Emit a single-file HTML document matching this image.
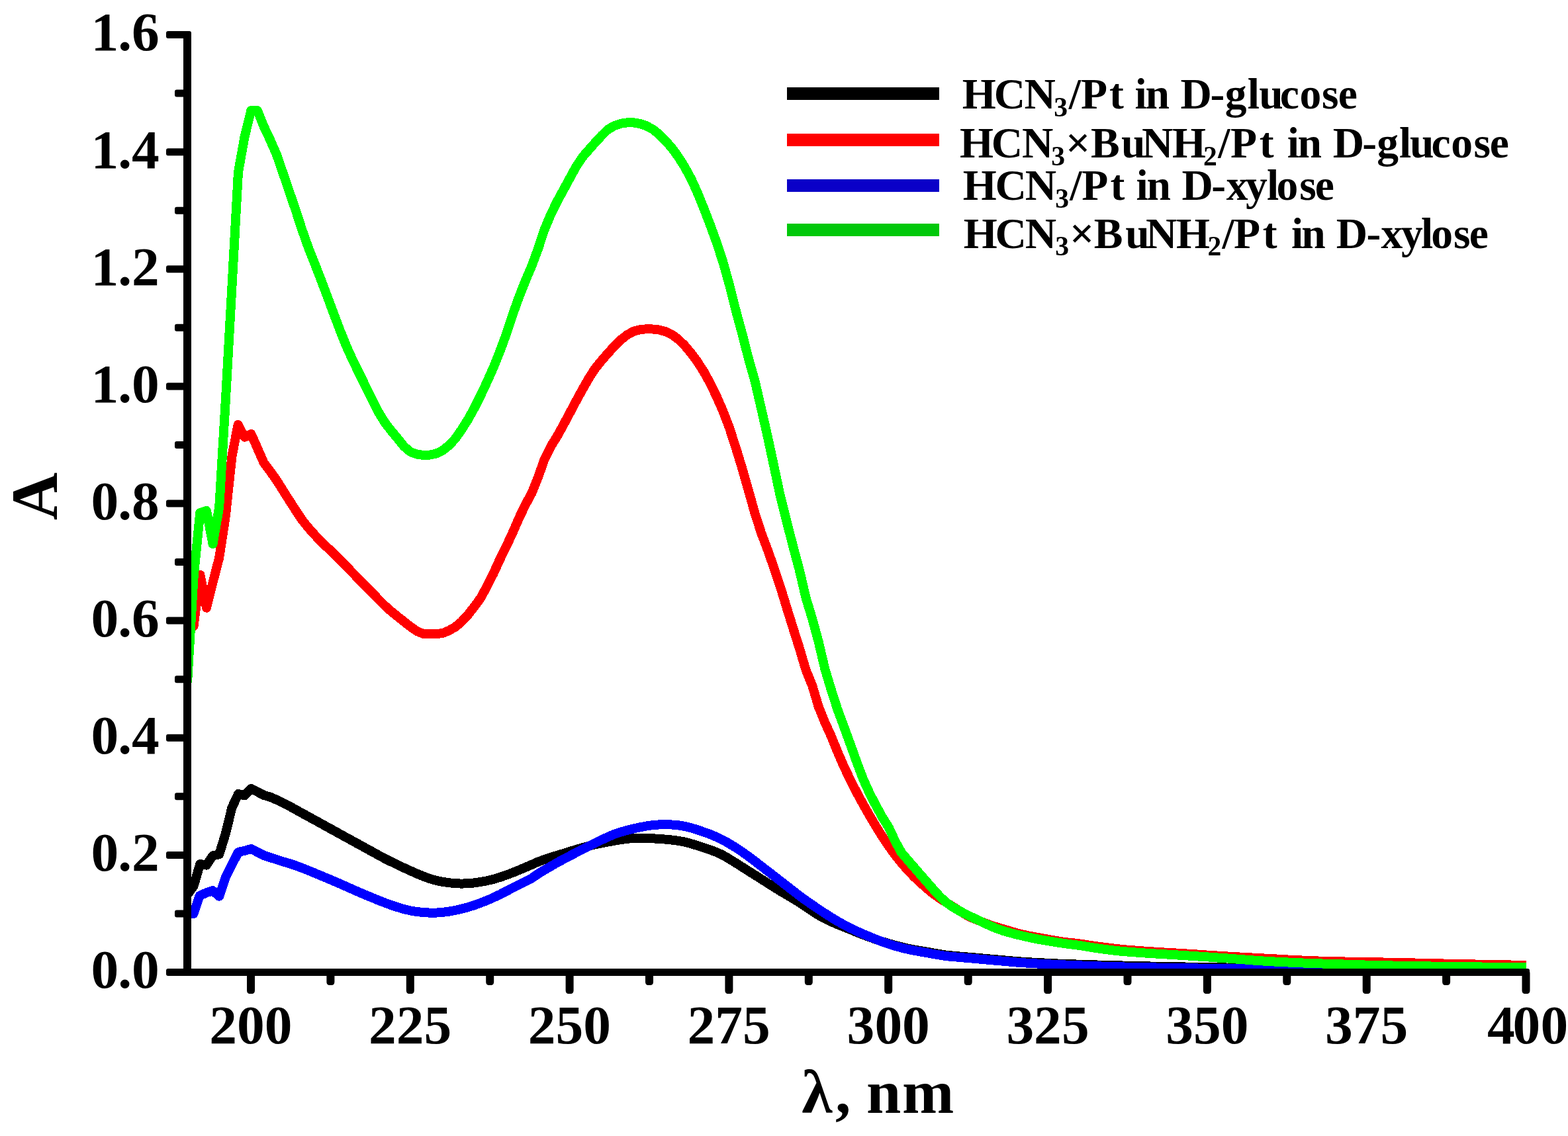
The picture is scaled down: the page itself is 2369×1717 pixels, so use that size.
<!DOCTYPE html>
<html lang="en"><head><meta charset="utf-8"><title>UV spectra</title>
<style>
html,body{margin:0;padding:0;background:#fff;}
body{width:2369px;height:1717px;overflow:hidden;}
svg{display:block;}
text{font-family:"Liberation Serif","DejaVu Serif",serif;font-weight:bold;fill:#000;}
.tick{font-size:83.5px;}
.leg{font-size:65.6px;}
.ttl{font-size:100px;}
.xt{font-size:94px;}
</style></head><body>
<svg xmlns="http://www.w3.org/2000/svg" width="2369" height="1717" viewBox="0 0 2369 1717">
<rect width="2369" height="1717" fill="#fff"/>
<defs><clipPath id="plot"><rect x="283" y="40" width="2024" height="1440"/></clipPath></defs>
<g clip-path="url(#plot)" shape-rendering="crispEdges">
<polyline points="283.0,1352.4 292.6,1339.2 302.3,1305.9 311.9,1307.6 321.5,1293.3 331.2,1291.3 340.8,1260.0 350.4,1220.7 360.0,1200.1 369.7,1202.3 379.3,1192.1 389.0,1196.9 398.6,1201.9 408.2,1204.7 417.9,1208.8 427.5,1213.4 437.1,1218.4 446.8,1223.7 456.4,1229.0 466.0,1234.3 475.7,1239.6 485.3,1244.9 494.9,1250.2 504.6,1255.5 514.2,1260.8 523.8,1266.1 533.5,1271.4 543.1,1276.7 552.7,1282.0 562.4,1287.3 572.0,1292.6 581.6,1297.8 591.3,1302.6 600.9,1307.2 610.5,1311.8 620.2,1316.2 629.8,1320.5 639.4,1324.4 649.1,1328.0 658.7,1330.8 668.3,1332.8 678.0,1334.2 687.6,1335.2 697.2,1335.6 706.9,1335.3 716.5,1334.4 726.1,1333.0 735.8,1331.2 745.4,1328.9 755.0,1326.0 764.7,1322.7 774.3,1319.1 783.9,1315.2 793.6,1311.1 803.2,1306.9 812.8,1302.7 822.5,1299.0 832.1,1295.8 841.7,1292.9 851.4,1290.0 861.0,1287.0 870.6,1284.0 880.3,1281.2 889.9,1278.6 899.5,1276.3 909.2,1274.3 918.8,1272.5 928.4,1270.7 938.1,1269.1 947.7,1267.8 957.3,1266.9 967.0,1266.6 976.6,1266.8 986.2,1267.3 995.9,1267.9 1005.5,1268.6 1015.1,1269.6 1024.8,1270.8 1034.4,1272.6 1044.0,1275.1 1053.7,1278.1 1063.3,1281.3 1072.9,1284.5 1082.6,1288.1 1092.2,1292.5 1101.8,1298.2 1111.5,1304.2 1121.1,1310.3 1130.7,1316.4 1140.4,1322.5 1150.0,1328.6 1159.6,1334.7 1169.3,1340.8 1178.9,1346.8 1188.5,1352.5 1198.2,1358.3 1207.8,1364.1 1217.4,1370.5 1227.1,1377.0 1236.7,1383.2 1246.3,1388.6 1256.0,1393.2 1265.6,1397.3 1275.2,1401.2 1284.9,1405.1 1294.5,1409.0 1304.1,1412.8 1313.8,1416.4 1323.4,1419.9 1333.0,1423.1 1342.7,1426.1 1352.3,1428.8 1361.9,1431.3 1371.6,1433.5 1381.2,1435.4 1390.9,1437.1 1400.5,1438.7 1410.1,1440.4 1419.8,1442.0 1429.4,1443.6 1439.0,1444.5 1448.7,1445.4 1458.3,1446.2 1467.9,1447.0 1477.6,1447.9 1487.2,1448.7 1496.8,1449.6 1506.5,1450.4 1516.1,1451.3 1525.7,1452.1 1535.4,1453.0 1545.0,1453.7 1554.6,1454.3 1564.3,1454.8 1573.9,1455.3 1583.5,1455.8 1593.2,1456.3 1602.8,1456.7 1612.4,1457.1 1622.1,1457.4 1631.7,1457.7 1641.3,1458.0 1651.0,1458.3 1660.6,1458.6 1670.2,1458.8 1679.9,1459.1 1689.5,1459.3 1699.1,1459.6 1708.8,1459.8 1718.4,1460.0 1728.0,1460.3 1737.7,1460.5 1747.3,1460.7 1756.9,1460.9 1766.6,1461.1 1776.2,1461.3 1785.8,1461.4 1795.5,1461.6 1805.1,1461.8 1814.7,1462.0 1824.4,1462.1 1834.0,1462.3 1843.6,1462.4 1853.3,1462.5 1862.9,1462.7 1872.5,1462.8 1882.2,1463.0 1891.8,1463.1 1901.4,1463.2 1911.1,1463.3 1920.7,1463.5 1930.3,1463.6 1940.0,1463.7 1949.6,1463.9 1959.2,1464.0 1968.9,1464.1 1978.5,1464.2 1988.1,1464.3 1997.8,1464.4 2007.4,1464.6 2017.0,1464.7 2026.7,1464.8 2036.3,1464.9 2045.9,1465.0 2055.6,1465.1 2065.2,1465.2 2074.8,1465.3 2084.5,1465.4 2094.1,1465.5 2103.7,1465.6 2113.4,1465.7 2123.0,1465.8 2132.6,1465.9 2142.3,1466.0 2151.9,1466.0 2161.5,1466.1 2171.2,1466.2 2180.8,1466.3 2190.4,1466.3 2200.1,1466.4 2209.7,1466.5 2219.3,1466.5 2229.0,1466.6 2238.6,1466.7 2248.2,1466.7 2257.9,1466.8 2267.5,1466.8 2277.1,1466.9 2286.8,1466.9 2296.4,1467.0 2306.0,1467.0" fill="none" stroke="#000000" stroke-width="14" stroke-linejoin="round" stroke-linecap="butt"/>
<polyline points="283.0,956.0 292.6,946.0 302.4,869.0 312.0,918.7 321.6,880.0 331.2,843.0 340.8,780.0 350.4,690.0 359.6,642.0 369.5,660.7 379.5,656.0 398.7,699.7 408.3,712.3 418.0,726.1 427.6,741.4 437.2,756.5 446.9,771.6 456.5,786.0 466.1,797.9 475.8,808.8 485.4,818.9 495.0,828.0 504.7,837.0 514.3,846.8 523.9,856.7 533.6,866.6 543.2,876.5 552.8,886.3 562.5,896.2 572.1,906.1 581.7,915.7 591.4,924.3 601.0,932.1 610.6,939.7 620.3,947.3 629.9,954.0 639.5,957.9 649.2,958.0 658.8,958.0 668.4,957.2 678.1,953.1 687.7,947.8 697.3,939.7 707.0,929.2 716.6,917.0 726.2,903.8 735.9,886.0 745.5,866.9 755.1,845.7 764.8,826.0 774.4,805.5 784.0,783.3 793.7,763.2 803.3,745.4 812.9,721.6 822.6,694.2 832.2,674.8 841.8,659.4 851.5,641.8 861.1,623.7 870.7,605.6 880.4,587.9 890.0,571.1 899.6,556.4 909.3,544.5 918.9,533.5 928.5,522.9 938.2,513.5 947.8,505.9 957.4,500.7 967.1,498.1 976.7,497.3 986.3,497.5 996.0,498.6 1005.6,501.2 1015.2,505.8 1024.9,512.9 1034.5,522.3 1044.1,533.8 1053.8,546.9 1063.4,561.9 1073.0,579.4 1082.7,599.4 1092.3,621.3 1101.9,646.4 1111.6,676.3 1121.2,707.6 1130.8,741.0 1140.5,775.7 1150.1,805.5 1159.7,830.9 1169.4,858.3 1179.0,887.2 1188.6,918.5 1198.3,949.7 1207.9,979.9 1217.5,1012.4 1227.2,1036.3 1236.8,1068.4 1246.4,1092.1 1256.1,1113.4 1265.7,1137.2 1275.3,1159.2 1285.0,1179.4 1294.6,1198.2 1304.2,1216.0 1313.9,1232.9 1323.5,1249.2 1333.1,1264.5 1342.8,1278.9 1352.4,1292.3 1362.1,1304.4 1371.7,1315.5 1381.3,1325.5 1391.0,1334.5 1400.6,1343.1 1410.2,1351.0 1419.9,1357.8 1429.5,1364.0 1439.1,1370.1 1448.8,1376.2 1458.4,1382.1 1468.0,1387.0 1477.7,1390.9 1487.3,1394.8 1496.9,1398.5 1506.6,1401.5 1516.2,1404.3 1525.8,1407.2 1535.5,1410.0 1545.1,1412.5 1554.7,1414.5 1564.4,1416.3 1574.0,1418.0 1583.6,1419.8 1593.3,1421.5 1602.9,1423.1 1612.5,1424.4 1622.2,1425.4 1631.8,1426.5 1641.4,1428.0 1651.1,1429.4 1660.7,1430.8 1670.3,1432.0 1680.0,1433.2 1689.6,1434.3 1699.2,1435.3 1708.9,1436.1 1718.5,1436.8 1728.1,1437.5 1737.8,1438.2 1747.4,1438.8 1757.0,1439.4 1766.7,1439.9 1776.3,1440.5 1785.9,1441.1 1795.6,1441.7 1805.2,1442.3 1814.8,1442.9 1824.5,1443.6 1834.1,1444.2 1843.7,1444.8 1853.4,1445.4 1863.0,1446.0 1872.6,1446.5 1882.3,1447.0 1891.9,1447.5 1901.5,1448.0 1911.2,1448.6 1920.8,1449.1 1930.4,1449.6 1940.1,1450.2 1949.7,1450.7 1959.3,1451.2 1969.0,1451.6 1978.6,1452.0 1988.2,1452.4 1997.9,1452.7 2007.5,1453.0 2017.1,1453.2 2026.8,1453.4 2036.4,1453.6 2046.0,1453.8 2055.7,1454.0 2065.3,1454.1 2074.9,1454.3 2084.6,1454.4 2094.2,1454.6 2103.8,1454.8 2113.5,1455.0 2123.1,1455.2 2132.7,1455.4 2142.4,1455.6 2152.0,1455.8 2161.6,1456.0 2171.3,1456.3 2180.9,1456.5 2190.5,1456.7 2200.2,1456.9 2209.8,1457.1 2219.4,1457.3 2229.1,1457.5 2238.7,1457.7 2248.3,1457.9 2258.0,1458.0 2267.6,1458.2 2277.2,1458.4 2286.9,1458.6 2296.5,1458.7 2306.0,1458.9" fill="none" stroke="#ff0000" stroke-width="14" stroke-linejoin="round" stroke-linecap="butt"/>
<polyline points="283.0,1381.0 292.6,1380.8 301.7,1353.8 311.9,1349.3 321.5,1346.2 331.2,1354.7 340.8,1326.0 350.4,1307.0 360.0,1288.0 369.7,1285.8 379.3,1283.0 398.7,1292.9 427.5,1302.4 437.1,1305.0 446.8,1308.3 456.4,1311.9 466.0,1315.7 475.7,1319.7 485.3,1323.7 494.9,1327.7 504.6,1331.8 514.2,1336.0 523.8,1340.3 533.5,1344.6 543.1,1348.8 552.7,1352.9 562.4,1356.8 572.0,1360.8 581.6,1364.6 591.3,1368.1 600.9,1371.3 610.5,1374.1 620.2,1376.4 629.8,1378.0 639.4,1379.0 649.1,1379.6 658.7,1379.6 668.3,1379.0 678.0,1377.7 687.6,1375.9 697.2,1373.8 706.9,1371.2 716.5,1368.2 726.1,1364.7 735.8,1360.9 745.4,1356.7 755.0,1352.1 764.7,1347.2 774.3,1342.2 783.9,1337.2 793.6,1332.6 803.2,1327.5 812.8,1320.9 822.5,1315.0 832.1,1309.4 841.7,1303.9 851.4,1298.6 861.0,1293.6 870.6,1288.6 880.3,1283.7 889.9,1278.8 899.5,1274.0 909.2,1269.3 918.8,1264.8 928.4,1260.7 938.1,1257.5 947.7,1254.8 957.3,1252.4 967.0,1250.3 976.6,1248.5 986.2,1247.2 995.9,1246.4 1005.5,1246.3 1015.1,1246.5 1024.8,1247.3 1034.4,1248.9 1044.0,1251.2 1053.7,1254.2 1063.3,1257.5 1072.9,1261.0 1082.6,1265.1 1092.2,1269.7 1101.8,1275.1 1111.5,1281.0 1121.1,1287.4 1130.7,1294.3 1140.4,1301.6 1150.0,1309.0 1159.6,1316.5 1169.3,1323.9 1178.9,1331.4 1188.5,1338.9 1198.2,1346.4 1207.8,1353.8 1217.4,1360.9 1227.1,1367.6 1236.7,1374.1 1246.3,1380.5 1256.0,1386.6 1265.6,1392.5 1275.2,1397.9 1284.9,1402.9 1294.5,1407.5 1304.1,1411.7 1313.8,1415.8 1323.4,1419.7 1333.0,1423.4 1342.7,1426.8 1352.3,1429.8 1361.9,1432.4 1371.6,1434.8 1381.2,1436.8 1390.9,1438.5 1400.5,1440.2 1410.1,1441.9 1419.8,1443.5 1429.4,1445.1 1439.0,1446.0 1448.7,1446.8 1458.3,1447.7 1467.9,1448.5 1477.6,1449.4 1487.2,1450.2 1496.8,1451.1 1506.5,1451.9 1516.1,1452.8 1525.7,1453.6 1535.4,1454.5 1545.0,1455.2 1554.6,1455.8 1564.3,1456.4 1573.9,1456.8 1583.5,1457.3 1593.2,1457.8 1602.8,1458.2 1612.4,1458.6 1622.1,1459.0 1631.7,1459.4 1641.3,1459.7 1651.0,1460.1 1660.6,1460.4 1670.2,1460.7 1679.9,1461.0 1689.5,1461.3 1699.1,1461.5 1708.8,1461.7 1718.4,1461.9 1728.0,1462.1 1737.7,1462.3 1747.3,1462.5 1756.9,1462.7 1766.6,1462.8 1776.2,1463.0 1785.8,1463.1 1795.5,1463.3 1805.1,1463.4 1814.7,1463.6 1824.4,1463.7 1834.0,1463.8 1843.6,1463.9 1853.3,1464.0 1862.9,1464.1 1872.5,1464.3 1882.2,1464.4 1891.8,1464.5 1901.4,1464.6 1911.1,1464.7 1920.7,1464.8 1930.3,1464.9 1940.0,1465.0 1949.6,1465.1 1959.2,1465.2 1968.9,1465.3 1978.5,1465.4 1988.1,1465.5 1997.8,1465.6 2007.4,1465.7 2017.0,1465.8 2026.7,1465.9 2036.3,1466.0 2045.9,1466.1 2055.6,1466.2 2065.2,1466.2 2074.8,1466.3 2084.5,1466.4 2094.1,1466.5 2103.7,1466.6 2113.4,1466.7 2123.0,1466.8 2132.6,1466.8 2142.3,1466.9 2151.9,1467.0 2161.5,1467.1 2171.2,1467.1 2180.8,1467.2 2190.4,1467.3 2200.1,1467.4 2209.7,1467.4 2219.3,1467.5 2229.0,1467.6 2238.6,1467.6 2248.2,1467.7 2257.9,1467.7 2267.5,1467.8 2277.1,1467.8 2286.8,1467.9 2296.4,1468.0 2306.0,1468.0" fill="none" stroke="#0000ff" stroke-width="14" stroke-linejoin="round" stroke-linecap="butt"/>
<polyline points="283.0,1032.0 292.6,872.0 302.3,775.0 312.0,772.0 321.5,822.0 331.2,766.7 340.8,606.0 350.4,434.0 360.0,260.0 369.7,206.0 379.3,167.2 389.0,167.2 398.6,191.1 408.3,211.7 417.9,233.7 427.5,261.5 437.2,289.8 446.8,318.1 456.4,347.4 466.1,374.9 475.7,399.1 485.3,423.7 495.0,449.5 504.6,475.2 514.2,500.6 523.9,524.6 533.5,545.6 543.1,565.2 552.8,584.8 562.4,604.3 572.0,623.3 581.7,639.0 591.3,651.4 600.9,662.8 610.6,674.9 620.2,683.0 629.8,686.6 639.5,688.0 649.1,687.6 658.7,685.7 668.4,681.0 678.0,673.5 687.6,663.3 697.3,649.6 706.9,634.3 716.5,617.1 726.2,597.7 735.8,577.2 745.4,555.8 755.1,531.4 764.7,505.7 774.3,476.3 784.0,449.3 793.6,424.9 803.2,402.4 812.9,376.3 822.5,347.2 832.1,324.2 841.8,304.4 851.4,286.8 861.0,269.1 870.7,251.4 880.3,237.0 889.9,226.0 899.6,215.1 909.2,204.7 918.8,195.4 928.5,190.0 938.1,186.8 947.7,185.3 957.4,185.4 967.0,187.0 976.6,190.2 986.3,195.5 995.9,203.1 1005.5,212.7 1015.2,223.9 1024.8,237.0 1034.4,252.3 1044.1,270.1 1053.7,291.2 1063.3,314.7 1073.0,339.9 1082.6,366.4 1092.2,395.6 1101.9,430.2 1111.5,468.4 1121.1,503.7 1130.8,541.5 1140.4,575.4 1150.0,617.1 1159.7,659.6 1169.3,704.6 1178.9,749.8 1188.6,788.5 1198.2,825.8 1207.8,861.6 1217.5,903.2 1227.1,935.0 1236.7,970.0 1246.4,1011.4 1256.0,1043.1 1265.6,1073.0 1275.3,1099.0 1284.9,1125.4 1294.5,1152.2 1304.2,1177.8 1313.8,1199.0 1323.4,1217.5 1333.1,1235.3 1342.7,1250.4 1352.4,1271.4 1362.0,1288.8 1371.6,1300.0 1381.3,1311.1 1390.9,1322.2 1400.5,1333.2 1410.2,1344.3 1419.8,1354.9 1429.4,1363.8 1439.1,1370.7 1448.7,1376.3 1458.3,1381.3 1468.0,1386.1 1477.6,1390.7 1487.2,1395.3 1496.9,1399.7 1506.5,1403.7 1516.1,1407.0 1525.8,1409.8 1535.4,1412.3 1545.0,1414.6 1554.7,1416.8 1564.3,1418.8 1573.9,1420.6 1583.6,1422.2 1593.2,1423.8 1602.8,1425.3 1612.5,1426.6 1622.1,1427.8 1631.7,1429.1 1641.4,1430.7 1651.0,1432.2 1660.6,1433.7 1670.3,1435.0 1679.9,1436.2 1689.5,1437.3 1699.2,1438.2 1708.8,1439.0 1718.4,1439.7 1728.1,1440.4 1737.7,1441.0 1747.3,1441.6 1757.0,1442.2 1766.6,1442.7 1776.2,1443.3 1785.9,1443.9 1795.5,1444.5 1805.1,1445.1 1814.8,1445.8 1824.4,1446.4 1834.0,1447.1 1843.7,1447.8 1853.3,1448.4 1862.9,1449.1 1872.6,1449.9 1882.2,1450.6 1891.8,1451.4 1901.5,1452.0 1911.1,1452.7 1920.7,1453.2 1930.4,1453.8 1940.0,1454.2 1949.6,1454.7 1959.3,1455.1 1968.9,1455.5 1978.5,1455.9 1988.2,1456.2 1997.8,1456.5 2007.4,1456.8 2017.1,1457.1 2026.7,1457.4 2036.3,1457.7 2046.0,1458.0 2055.6,1458.3 2065.2,1458.6 2074.9,1458.8 2084.5,1459.0 2094.1,1459.3 2103.8,1459.5 2113.4,1459.7 2123.0,1459.9 2132.7,1460.0 2142.3,1460.2 2151.9,1460.4 2161.6,1460.5 2171.2,1460.7 2180.8,1460.8 2190.5,1460.9 2200.1,1461.1 2209.7,1461.2 2219.4,1461.3 2229.0,1461.4 2238.6,1461.5 2248.3,1461.6 2257.9,1461.7 2267.5,1461.8 2277.2,1461.9 2286.8,1462.0 2296.4,1462.1 2306.0,1462.2" fill="none" stroke="#00ff00" stroke-width="14" stroke-linejoin="round" stroke-linecap="butt"/>
</g>
<g fill="#000" stroke="none">
<path d="M277,47 H286 Q289,47 289,50 V1475 H277 Z"/>
<path d="M254,1464 H2308 Q2311,1464 2311,1467 V1475 H254 Q251,1475 251,1472 V1467 Q251,1464 254,1464 Z"/>
<rect x="251" y="1286.9" width="30" height="11" rx="3" ry="3"/>
<rect x="251" y="1109.8" width="30" height="11" rx="3" ry="3"/>
<rect x="251" y="932.6" width="30" height="11" rx="3" ry="3"/>
<rect x="251" y="755.5" width="30" height="11" rx="3" ry="3"/>
<rect x="251" y="578.4" width="30" height="11" rx="3" ry="3"/>
<rect x="251" y="401.3" width="30" height="11" rx="3" ry="3"/>
<rect x="251" y="224.2" width="30" height="11" rx="3" ry="3"/>
<rect x="251" y="47.0" width="30" height="11" rx="3" ry="3"/>
<rect x="264" y="1375.4" width="17" height="11" rx="3" ry="3"/>
<rect x="264" y="1198.3" width="17" height="11" rx="3" ry="3"/>
<rect x="264" y="1021.2" width="17" height="11" rx="3" ry="3"/>
<rect x="264" y="844.1" width="17" height="11" rx="3" ry="3"/>
<rect x="264" y="667.0" width="17" height="11" rx="3" ry="3"/>
<rect x="264" y="489.8" width="17" height="11" rx="3" ry="3"/>
<rect x="264" y="312.7" width="17" height="11" rx="3" ry="3"/>
<rect x="264" y="135.6" width="17" height="11" rx="3" ry="3"/>
<rect x="373.0" y="1466" width="12" height="36" rx="3.5" ry="5"/>
<rect x="613.8" y="1466" width="12" height="36" rx="3.5" ry="5"/>
<rect x="854.6" y="1466" width="12" height="36" rx="3.5" ry="5"/>
<rect x="1095.4" y="1466" width="12" height="36" rx="3.5" ry="5"/>
<rect x="1336.2" y="1466" width="12" height="36" rx="3.5" ry="5"/>
<rect x="1577.1" y="1466" width="12" height="36" rx="3.5" ry="5"/>
<rect x="1817.9" y="1466" width="12" height="36" rx="3.5" ry="5"/>
<rect x="2058.7" y="1466" width="12" height="36" rx="3.5" ry="5"/>
<rect x="2299.5" y="1466" width="12" height="36" rx="3.5" ry="5"/>
<rect x="493.4" y="1466" width="12" height="23" rx="3.5" ry="5"/>
<rect x="734.2" y="1466" width="12" height="23" rx="3.5" ry="5"/>
<rect x="975.0" y="1466" width="12" height="23" rx="3.5" ry="5"/>
<rect x="1215.8" y="1466" width="12" height="23" rx="3.5" ry="5"/>
<rect x="1456.7" y="1466" width="12" height="23" rx="3.5" ry="5"/>
<rect x="1697.5" y="1466" width="12" height="23" rx="3.5" ry="5"/>
<rect x="1938.3" y="1466" width="12" height="23" rx="3.5" ry="5"/>
<rect x="2179.1" y="1466" width="12" height="23" rx="3.5" ry="5"/>
</g>
<g class="tick">
<text x="137.6 178.2 198.9" y="1493.4">0.0</text>
<text x="137.6 178.2 198.9" y="1316.3">0.2</text>
<text x="137.6 178.2 198.9" y="1139.2">0.4</text>
<text x="137.6 178.2 198.9" y="962.0">0.6</text>
<text x="137.6 178.2 198.9" y="784.9">0.8</text>
<text x="137.6 178.2 198.9" y="607.8">1.0</text>
<text x="137.6 178.2 198.9" y="430.7">1.2</text>
<text x="137.6 178.2 198.9" y="253.6">1.4</text>
<text x="137.6 178.2 198.9" y="76.4">1.6</text>
<text x="316.2 358.0 399.7" y="1577.2">200</text>
<text x="557.0 598.7 640.5" y="1577.2">225</text>
<text x="797.8 839.6 881.3" y="1577.2">250</text>
<text x="1038.6 1080.3 1122.1" y="1577.2">275</text>
<text x="1279.6 1321.4 1363.1" y="1577.2">300</text>
<text x="1520.4 1562.1 1603.9" y="1577.2">325</text>
<text x="1761.3 1803.0 1844.8" y="1577.2">350</text>
<text x="2002.0 2043.8 2085.5" y="1577.2">375</text>
<text x="2246.9 2285.6 2327.4" y="1577.2">400</text>
</g>
<text class="ttl" transform="translate(86.2,750.1) rotate(-90)" text-anchor="middle">A</text>
<text class="xt" x="1211.2 1261.9 1285.4 1309.1 1362.9" y="1681.8">λ, nm</text>
<rect x="1189" y="132.0" width="230" height="19" fill="#000000" shape-rendering="crispEdges"/>
<text class="leg" x="1453.7 1501.7 1547.4 1592.2 1614.8 1632.9 1675.9 1697.8 1714.4 1730.4 1766.9 1783.5 1828.5 1850.7 1884.7 1902.2 1933.7 1963.5 1997.0 2021.8" y="164.2 164.2 164.2 176.4 164.2 164.2 164.2 164.2 164.2 164.2 164.2 164.2 164.2 164.2 164.2 164.2 164.2 164.2 164.2 164.2">HCN<tspan font-size="41.7">3</tspan>/Pt in D-glucose</text>
<rect x="1189" y="201.9" width="230" height="19" fill="#ff0000" shape-rendering="crispEdges"/>
<text class="leg" x="1449.9 1497.8 1543.9 1588.2 1610.1 1648.1 1694.1 1724.9 1770.9 1818.1 1840.3 1859.0 1902.8 1924.7 1944.8 1960.6 1997.1 2013.8 2058.3 2080.2 2113.9 2130.0 2162.6 2192.2 2226.6 2250.8" y="238.2 238.2 238.2 249.7 238.2 238.2 238.2 238.2 238.2 249.7 238.2 238.2 238.2 238.2 238.2 238.2 238.2 238.2 238.2 238.2 238.2 238.2 238.2 238.2 238.2 238.2">HCN<tspan font-size="41.7">3</tspan>×BuNH<tspan font-size="41.7">2</tspan>/Pt in D-glucose</text>
<rect x="1189" y="270.8" width="230" height="19" fill="#0a00c8" shape-rendering="crispEdges"/>
<text class="leg" x="1454.7 1503.4 1548.8 1594.3 1616.3 1634.3 1677.6 1699.5 1716.5 1732.5 1769.0 1785.6 1830.2 1852.8 1882.1 1913.9 1928.6 1963.3 1986.8" y="302.1 302.1 302.1 313.7 302.1 302.1 302.1 302.1 302.1 302.1 302.1 302.1 302.1 302.1 302.1 302.1 302.1 302.1 302.1">HCN<tspan font-size="41.7">3</tspan>/Pt in D-xylose</text>
<rect x="1189" y="337.8" width="230" height="19" fill="#00c80a" shape-rendering="crispEdges"/>
<text class="leg" x="1455.8 1503.4 1548.8 1594.3 1616.0 1652.7 1700.2 1731.0 1776.9 1824.5 1846.6 1864.0 1907.7 1929.6 1950.9 1966.3 2002.8 2018.7 2064.4 2086.6 2117.0 2146.9 2162.3 2196.0 2219.8" y="375.0 375.0 375.0 386.4 375.0 375.0 375.0 375.0 375.0 386.4 375.0 375.0 375.0 375.0 375.0 375.0 375.0 375.0 375.0 375.0 375.0 375.0 375.0 375.0 375.0">HCN<tspan font-size="41.7">3</tspan>×BuNH<tspan font-size="41.7">2</tspan>/Pt in D-xylose</text>
</svg></body></html>
